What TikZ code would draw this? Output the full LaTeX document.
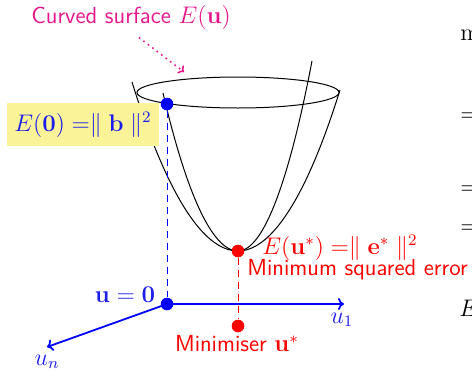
\documentclass[tikz,border=0pt]{standalone}
\usepackage{amsmath,amssymb}
\usepackage{tikz}
\usetikzlibrary{arrows.meta,calc}

\definecolor{surfmag}{RGB}{230,22,140}
\definecolor{boxyellow}{RGB}{250,243,152}
\definecolor{lblblue}{RGB}{30,30,235}

\tikzset{
  txt/.style={font=\fontsize{11.6}{14}\selectfont\sffamily, inner sep=1pt},
  dot/.style={circle, fill, inner sep=0pt, minimum size=6.3pt},
  axis/.style={blue, line width=0.9pt, -{To[length=3pt,width=6pt]}},
  drop/.style={line width=0.45pt, dash pattern=on 3.5pt off 2.5pt}
}

\begin{document}
\begin{tikzpicture}[x=0.5pt,y=-0.5pt,font=\fontsize{11.6}{14}\selectfont]

\clip (0,0) rectangle (472,370);

% Surface
\draw[line width=0.5pt] (238,92.5) ellipse [x radius=50.5pt, y radius=7.75pt];
\draw[line width=0.5pt] (132,82) parabola bend (238,251) (340,90);
\draw[line width=0.5pt] (163,93) parabola bend (238,251) (312,61);

% Label of the surface
\node[txt, surfmag] (curvedlbl) at (131,17) {Curved surface $E(\mathbf{u})$};
\coordinate (surfpt) at (184,72);
\draw[surfmag, line width=0.8pt, dotted, -{To[length=2.5pt,width=5pt]}, shorten <=5pt] (curvedlbl.south) -- (surfpt);

% Points
\node[dot, blue] (bdot) at (167,104) {};
\node[dot, blue] (odot) at (167,304) {};
\node[dot, red] (mindot) at (238,251) {};
\node[dot, red] (udot) at (238,326) {};

% Drop lines
\draw[drop, blue] (bdot) -- (odot);
\draw[drop, red] (mindot) -- (udot);

% Axes
\coordinate (u1end) at (344,304);
\coordinate (unend) at (47,347);
\draw[axis] (odot.center) -- (u1end);
\draw[axis] (odot.center) -- (unend);
\node[lblblue] (u1lbl) at (342,320) {$u_1$};
\node[lblblue] (unlbl) at (47,362) {$u_n$};
\node[lblblue] (zerolbl) at (125,295) {$\mathbf{u}=\mathbf{0}$};

% Error at origin
\node[fill=boxyellow, text=lblblue, minimum width=76pt, minimum height=21.5pt] (ezero) at (83,124.5)
  {$E(\mathbf{0}) =\parallel \mathbf{b} \parallel^2$};

% Minimum
\node[red, anchor=west, inner sep=0pt] (eminlbl) at (262,248) {$E(\mathbf{u}^*) =\parallel \mathbf{e}^* \parallel^2$};
\node[txt, red, anchor=west, inner sep=0pt] (msqlbl) at (247,270) {Minimum squared error};
\node[txt, red] (minlbl) at (237,344) {Minimiser $\mathbf{u}^*$};

% Next column
\node[anchor=west, inner sep=0pt] (col1) at (460,33) {$\min$};
\node[anchor=west, inner sep=0pt] (col2) at (460,117) {$=$};
\node[anchor=west, inner sep=0pt] (col3) at (460,190) {$=$};
\node[anchor=west, inner sep=0pt] (col4) at (460,229) {$=$};
\node[anchor=west, inner sep=0pt] (col5) at (459,308) {$E$};

\end{tikzpicture}
\end{document}
